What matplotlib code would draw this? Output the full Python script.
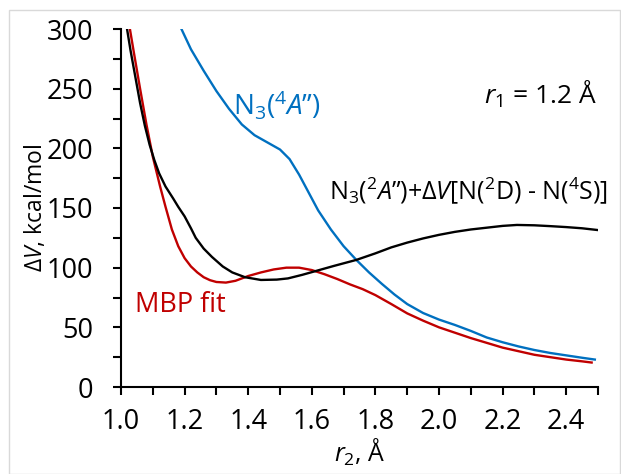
import matplotlib
matplotlib.use("Agg")
import matplotlib.pyplot as plt
from matplotlib.ticker import MultipleLocator
from matplotlib.patches import Rectangle

plt.rcParams['font.family'] = ['Open Sans', 'DejaVu Sans']
plt.rcParams['mathtext.fontset'] = 'custom'
plt.rcParams['mathtext.rm'] = 'Open Sans'
plt.rcParams['mathtext.it'] = 'Open Sans:italic'
plt.rcParams['mathtext.sf'] = 'Open Sans'

# Potential curves along r2 (r1 fixed at 1.2 Å), ΔV in kcal/mol
r2_quartet = [1.19, 1.22, 1.26, 1.30, 1.34, 1.38, 1.42, 1.46, 1.50, 1.53, 1.56,
              1.59, 1.62, 1.66, 1.70, 1.74, 1.78, 1.82, 1.86, 1.90, 1.95, 2.00,
              2.05, 2.10, 2.15, 2.20, 2.25, 2.30, 2.35, 2.40, 2.45, 2.49]
dv_quartet = [300, 283, 265, 248, 233, 220, 211, 205, 199, 191, 178,
              163, 148, 132, 118, 106.5, 96, 86.5, 77.5, 69.5, 62, 56.5,
              52, 47, 41.5, 37.5, 34, 31, 28.5, 26.5, 24.5, 23]

r2_doublet = [1.019, 1.03, 1.045, 1.06, 1.075, 1.09, 1.105, 1.12, 1.14, 1.164,
              1.18, 1.20, 1.22, 1.235, 1.26, 1.286, 1.32, 1.35, 1.39, 1.44,
              1.49, 1.525, 1.57, 1.61, 1.67, 1.74, 1.80, 1.85, 1.90, 1.95,
              2.00, 2.05, 2.10, 2.15, 2.20, 2.245, 2.30, 2.35, 2.40, 2.45, 2.50]
dv_doublet = [300, 282, 260, 238, 219, 203, 190, 179, 168, 158,
              151, 143, 133, 125, 116, 109, 101, 96, 92, 89.7,
              90, 91, 94, 97, 101.5, 106.5, 112, 117, 121, 124.5,
              127.5, 130, 132, 133.5, 135, 135.8, 135.5, 134.8, 134, 133, 131.5]

r2_fit = [1.028, 1.04, 1.06, 1.08, 1.10, 1.123, 1.14, 1.16, 1.18, 1.20, 1.22,
          1.24, 1.26, 1.28, 1.30, 1.33, 1.36, 1.40, 1.44, 1.48, 1.52, 1.56,
          1.60, 1.64, 1.68, 1.72, 1.76, 1.80, 1.85, 1.90, 1.95, 2.00, 2.05,
          2.10, 2.15, 2.20, 2.25, 2.30, 2.35, 2.40, 2.45, 2.48]
dv_fit = [300, 281, 250, 220, 193, 168, 151, 132, 118, 108, 101,
          96, 92, 89.5, 88, 87.5, 89, 93, 96, 98.5, 100, 100,
          98, 94.5, 90.5, 86, 82, 77, 69.5, 61.7, 55.6, 50, 45.5,
          41, 37, 33, 30, 27, 25, 23, 21.5, 20.5]

blue = '#0070C0'
red = '#C00000'

fig = plt.figure(figsize=(6.21, 4.74), dpi=100)
fig.patches.append(Rectangle((9 / 621, 0), 611 / 621, 1 - 10 / 474,
                             transform=fig.transFigure, fill=False,
                             edgecolor='#d9d9d9', linewidth=1.0))
ax = fig.add_axes([121 / 621, 1 - 387 / 474, 477 / 621, 358 / 474])

ax.plot(r2_quartet, dv_quartet, color=blue, lw=1.7, solid_joinstyle='round')
ax.plot(r2_fit, dv_fit, color=red, lw=1.7, solid_joinstyle='round')
ax.plot(r2_doublet, dv_doublet, color='black', lw=1.7, solid_joinstyle='round')

ax.set_xlim(1.0, 2.5)
ax.set_ylim(0, 300)
ax.xaxis.set_major_locator(MultipleLocator(0.2))
ax.xaxis.set_minor_locator(MultipleLocator(0.1))
ax.yaxis.set_major_locator(MultipleLocator(50))
ax.yaxis.set_minor_locator(MultipleLocator(25))
ax.xaxis.set_major_formatter(plt.FuncFormatter(lambda v, p: f'{v:.1f}'))
for s in ('top', 'right'):
    ax.spines[s].set_visible(False)
for s in ('left', 'bottom'):
    ax.spines[s].set_linewidth(1.5)
ax.tick_params(which='both', direction='out', length=6, width=1.5,
               labelsize=19.5)
ax.tick_params(axis='x', pad=9)
ax.tick_params(axis='y', pad=14)

ax.set_xlabel(r'$r_2$, Å', fontsize=18, labelpad=1)
ax.set_ylabel(r'Δ$V$, kcal/mol', fontsize=16.5, labelpad=-1)

ax.text(2.142, 245, r'$r_1$ = 1.2 Å', fontsize=19, ha='left', va='center')
ax.text(1.352, 236, r'N$_3$($^4$$A$”)', fontsize=20, color=blue,
        ha='left', va='center')
ax.text(1.654, 165, r'N$_3$($^2$$A$”)+Δ$V$[N($^2$D) - N($^4$S)]', fontsize=18,
        ha='left', va='center')
ax.text(1.044, 69, 'MBP fit', fontsize=19.5, color=red, ha='left', va='center')

fig.savefig('out.png', dpi=100)
